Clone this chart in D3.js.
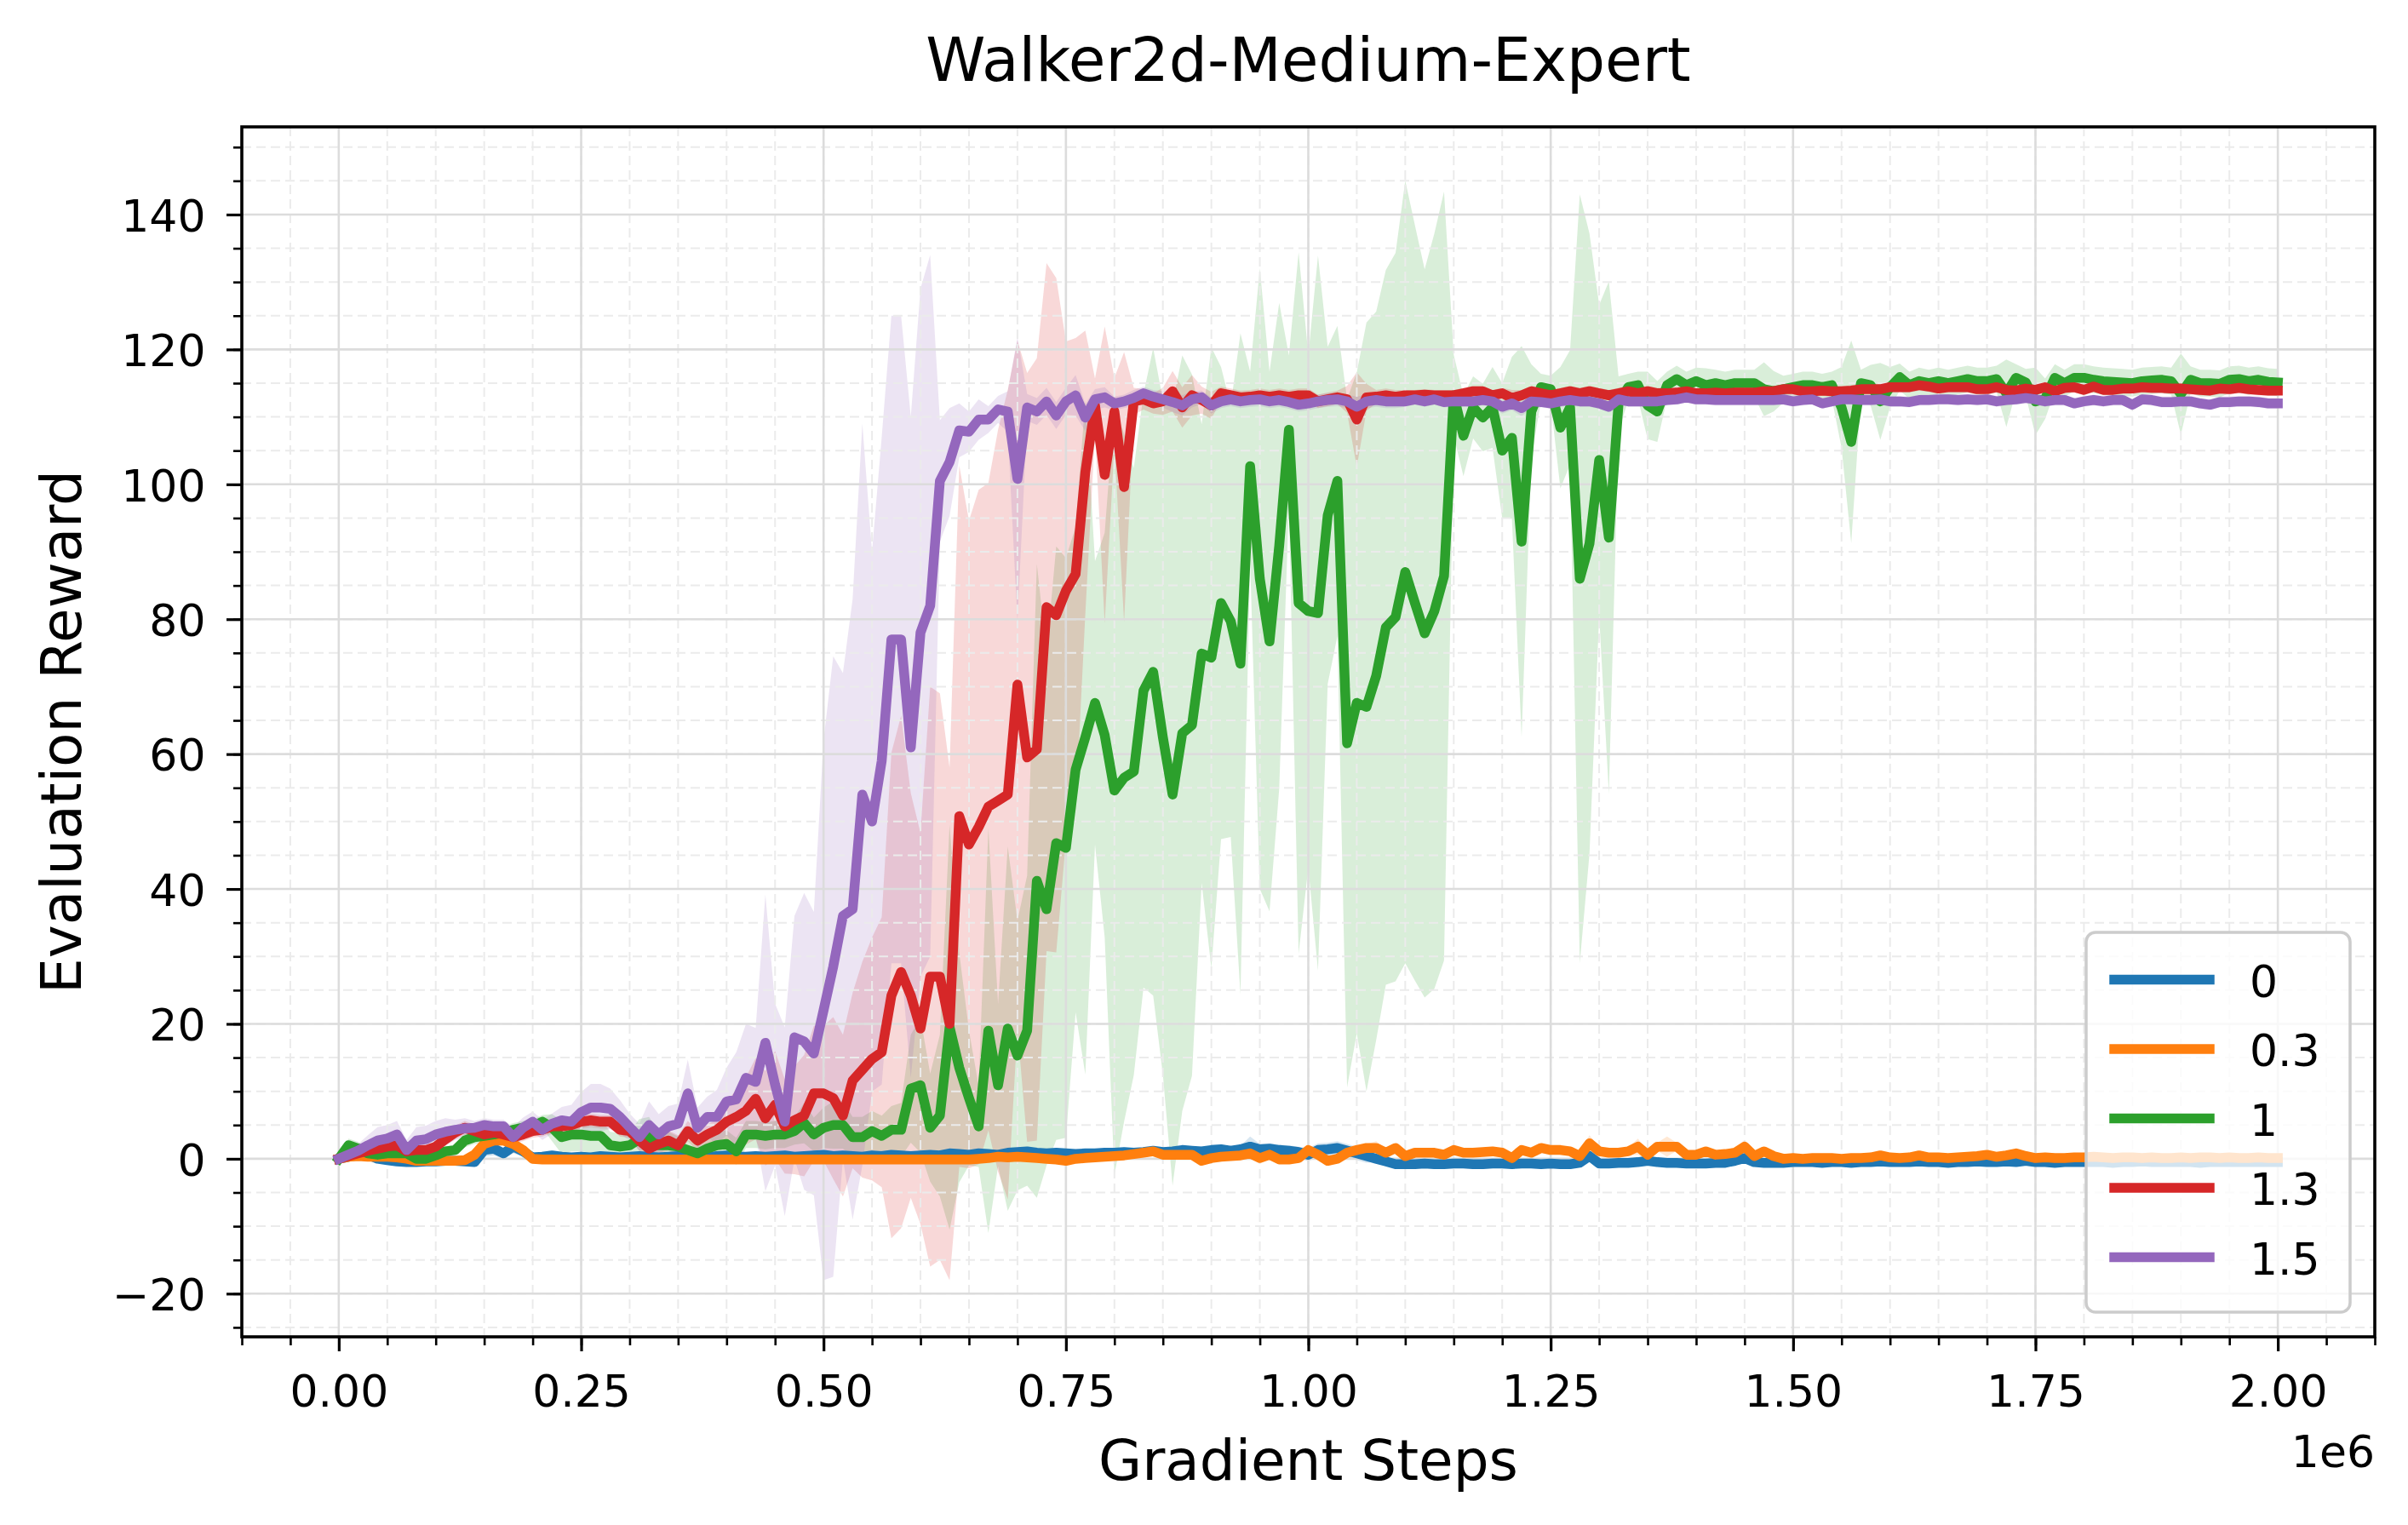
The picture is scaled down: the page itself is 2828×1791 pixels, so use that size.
<!DOCTYPE html>
<html>
<head>
<meta charset="utf-8">
<script src="https://cdn.jsdelivr.net/npm/d3@7"></script>
<style>
  body { margin: 0; background: #ffffff; }
  svg { display: block; font-family: "DejaVu Sans", sans-serif; }
</style>
</head>
<body>
<div id="chart"></div>
<script>
var width = 2828;
var height = 1791;
var plot = {left: 284, right: 2789, top: 149, bottom: 1570};

var seriesLabels = ["0", "0.3", "1", "1.3", "1.5"];
var seriesColors = ["#1f77b4", "#ff7f0e", "#2ca02c", "#d62728", "#9467bd"];
var stepSize = 10000;   // evaluation every 10k gradient steps, 201 points

var xMajorTicks = [0, 250000, 500000, 750000, 1000000, 1250000, 1500000, 1750000, 2000000];
var xTickLabels = ["0.00", "0.25", "0.50", "0.75", "1.00", "1.25", "1.50", "1.75", "2.00"];
var yMajorTicks = [-20, 0, 20, 40, 60, 80, 100, 120, 140];
var yTickLabels = ["\u221220", "0", "20", "40", "60", "80", "100", "120", "140"];

// ---- series "0" (blue)
var mean0 = [
  0, 0.3, 0.5, 0.6, 0.0, -0.2, -0.4, -0.5, -0.5, -0.4,
  -0.4, -0.3, -0.3, -0.4, -0.5, 1.3, 1.5, 0.8, 1.8, 1.1,
  0.2, 0.3, 0.5, 0.3, 0.2, 0.3, 0.2, 0.4, 0.3, 0.2,
  0.3, 0.4, 0.3, 0.2, 0.3, 0.4, 0.3, 0.3, 0.2, 0.4,
  0.5, 0.3, 0.3, 0.4, 0.3, 0.4, 0.5, 0.3, 0.4, 0.5,
  0.6, 0.4, 0.5, 0.4, 0.3, 0.5, 0.4, 0.6, 0.5, 0.4,
  0.5, 0.6, 0.5, 0.8, 0.7, 0.6, 0.8, 0.7, 0.6, 0.9,
  1.0, 1.1, 0.9, 0.8, 0.9, 0.8, 0.7, 0.8, 0.8, 0.9,
  0.9, 1.0, 0.9, 1.0, 1.2, 1.0, 1.1, 1.3, 1.2, 1.1,
  1.3, 1.4, 1.2, 1.4, 1.8, 1.4, 1.5, 1.3, 1.2, 1.0,
  0.6, 1.3, 1.4, 1.6, 1.2, 0.8, 0.4, 0.0, -0.4, -0.8,
  -0.8, -0.8, -0.7, -0.8, -0.8, -0.7, -0.7, -0.8, -0.8, -0.7,
  -0.7, -0.8, -0.7, -0.7, -0.8, -0.7, -0.8, -0.8, -0.6, 0.4,
  -0.7, -0.7, -0.6, -0.6, -0.5, -0.3, -0.5, -0.6, -0.6, -0.7,
  -0.7, -0.7, -0.6, -0.6, -0.3, 0.1, -0.5, -0.6, -0.6, -0.6,
  -0.5, -0.5, -0.5, -0.6, -0.5, -0.5, -0.6, -0.5, -0.5, -0.4,
  -0.5, -0.5, -0.5, -0.4, -0.5, -0.5, -0.6, -0.5, -0.5, -0.4,
  -0.5, -0.5, -0.4, -0.5, -0.3, -0.5, -0.5, -0.6, -0.5, -0.5,
  -0.5, -0.5, -0.5, -0.6, -0.5, -0.5, -0.4, -0.5, -0.5, -0.5,
  -0.5, -0.5, -0.6, -0.5, -0.5, -0.5, -0.5, -0.5, -0.5, -0.5, -0.5
];
var sd0 = [
  0, 0.3, 0.3, 0.3, 0.3, 0.3, 0.3, 0.3, 0.3, 0.3,
  0.3, 0.3, 0.3, 0.3, 0.3, 1.0, 1.0, 0.8, 1.0, 0.8,
  0.3, 0.3, 0.3, 0.3, 0.3, 0.3, 0.3, 0.3, 0.3, 0.3,
  0.3, 0.3, 0.3, 0.3, 0.3, 0.3, 0.3, 0.3, 0.3, 0.3,
  0.3, 0.3, 0.3, 0.3, 0.3, 0.3, 0.3, 0.3, 0.3, 0.3,
  0.3, 0.3, 0.3, 0.3, 0.3, 0.3, 0.3, 0.3, 0.3, 0.3,
  0.5, 0.5, 0.5, 0.5, 0.5, 0.5, 0.5, 0.5, 0.5, 0.5,
  0.5, 0.5, 0.5, 0.5, 0.5, 0.5, 0.5, 0.5, 0.5, 0.5,
  0.5, 0.5, 0.5, 0.5, 0.5, 0.5, 0.5, 0.5, 0.5, 0.5,
  0.5, 0.5, 0.5, 0.5, 1.5, 0.8, 0.8, 0.8, 0.8, 0.8,
  1.0, 1.0, 1.0, 1.0, 1.0, 1.0, 1.0, 0.4, 0.4, 0.4,
  0.4, 0.4, 0.4, 0.4, 0.4, 0.4, 0.4, 0.4, 0.4, 0.4,
  0.4, 0.4, 0.4, 0.4, 0.4, 0.4, 0.4, 0.4, 0.4, 0.8,
  0.4, 0.4, 0.4, 0.4, 0.4, 0.4, 0.4, 0.4, 0.4, 0.4,
  0.4, 0.4, 0.4, 0.4, 0.4, 0.6, 0.4, 0.4, 0.4, 0.4,
  0.4, 0.4, 0.4, 0.4, 0.4, 0.4, 0.4, 0.4, 0.4, 0.4,
  0.4, 0.4, 0.4, 0.4, 0.4, 0.4, 0.4, 0.4, 0.4, 0.4,
  0.4, 0.4, 0.4, 0.4, 0.4, 0.4, 0.4, 0.4, 0.4, 0.4,
  0.4, 0.4, 0.4, 0.4, 0.4, 0.4, 0.4, 0.4, 0.4, 0.4,
  0.4, 0.4, 0.4, 0.4, 0.4, 0.4, 0.4, 0.4, 0.4, 0.4, 0.4
];

// ---- series "0.3" (orange)
var mean03 = [
  0, 0.3, 0.4, 0.3, 0.3, 0.3, 0.2, 0.0, -0.3, -0.3,
  -0.3, -0.3, -0.3, -0.2, 0.6, 2.2, 2.7, 2.7, 2.2, 1.3,
  0.0, -0.1, -0.1, -0.1, -0.1, -0.1, -0.1, -0.1, -0.1, -0.1,
  -0.1, -0.1, -0.1, -0.1, -0.1, -0.1, -0.1, -0.1, -0.1, -0.1,
  -0.1, -0.1, -0.1, -0.1, -0.1, -0.1, -0.1, -0.1, -0.1, -0.1,
  -0.1, -0.1, -0.1, -0.1, -0.1, -0.1, -0.1, -0.1, -0.1, -0.1,
  -0.1, -0.1, -0.1, -0.1, -0.1, -0.1, 0.0, 0.1, 0.3, 0.2,
  0.3, 0.2, 0.1, 0.0, -0.1, -0.3, 0.0, 0.1, 0.2, 0.3,
  0.4, 0.5, 0.7, 0.9, 1.1, 0.6, 0.6, 0.6, 0.6, -0.3,
  0.1, 0.3, 0.4, 0.5, 0.8, 0.1, 0.6, -0.1, -0.1, 0.1,
  1.3, 0.6, -0.3, 0.0, 0.9, 1.3, 1.6, 1.6, 0.9, 1.6,
  0.4, 0.9, 0.9, 0.9, 0.6, 1.3, 0.9, 0.9, 1.0, 1.1,
  0.9, 0.1, 1.3, 0.9, 1.6, 1.3, 1.3, 1.1, 0.4, 2.3,
  1.1, 0.9, 0.9, 1.1, 1.8, 0.6, 1.8, 1.8, 1.8, 0.6,
  0.6, 1.1, 0.6, 0.7, 0.9, 1.8, 0.4, 1.1, 0.4, 0.0,
  0.1, 0.0, 0.1, 0.1, 0.1, 0.0, 0.1, 0.1, 0.2, 0.5,
  0.2, 0.1, 0.2, 0.5, 0.2, 0.2, 0.1, 0.2, 0.3, 0.4,
  0.6, 0.3, 0.5, 0.8, 0.4, 0.1, 0.2, 0.1, 0.1, 0.2,
  0.2, 0.3, 0.2, 0.1, 0.2, 0.2, 0.1, 0.2, 0.1, 0.1,
  0.2, 0.1, 0.2, 0.2, 0.1, 0.2, 0.1, 0.1, 0.2, 0.1, 0.1
];
var sd03 = [
  0, 0.3, 0.3, 0.3, 0.3, 0.3, 0.3, 0.3, 0.3, 0.3,
  0.3, 0.3, 0.3, 0.3, 0.8, 0.8, 0.8, 0.8, 0.8, 0.8,
  0.8, 0.1, 0.1, 0.1, 0.1, 0.1, 0.1, 0.1, 0.1, 0.1,
  0.1, 0.1, 0.1, 0.1, 0.1, 0.1, 0.1, 0.1, 0.1, 0.1,
  0.1, 0.1, 0.1, 0.1, 0.1, 0.1, 0.1, 0.1, 0.1, 0.1,
  0.1, 0.1, 0.1, 0.1, 0.1, 0.1, 0.1, 0.1, 0.1, 0.1,
  0.1, 0.1, 0.1, 0.1, 0.1, 0.1, 0.1, 0.1, 0.4, 0.4,
  0.4, 0.4, 0.4, 0.4, 0.4, 0.4, 0.4, 0.4, 0.4, 0.4,
  0.4, 0.4, 0.4, 0.4, 0.4, 0.4, 0.4, 0.4, 0.4, 0.4,
  0.4, 0.4, 0.4, 0.4, 0.4, 0.4, 0.4, 0.4, 0.4, 0.4,
  0.6, 0.6, 0.6, 0.6, 0.6, 0.6, 0.6, 1.0, 0.6, 0.6,
  0.6, 0.6, 0.6, 0.6, 0.6, 0.6, 0.6, 0.6, 0.6, 0.6,
  0.6, 0.6, 0.6, 0.6, 0.6, 0.6, 0.6, 0.6, 0.6, 1.2,
  0.6, 0.6, 0.6, 0.6, 1.2, 0.6, 0.6, 1.5, 0.6, 0.6,
  0.6, 0.6, 0.6, 0.6, 0.6, 1.0, 0.6, 0.6, 0.6, 0.6,
  0.3, 0.3, 0.3, 0.3, 0.3, 0.3, 0.3, 0.3, 0.3, 0.3,
  0.3, 0.3, 0.3, 0.3, 0.3, 0.3, 0.3, 0.3, 0.3, 0.3,
  0.3, 0.3, 0.3, 0.3, 0.3, 0.3, 0.3, 0.3, 0.3, 0.3,
  0.3, 0.3, 0.3, 0.3, 0.3, 0.3, 0.3, 0.3, 0.3, 0.3,
  0.3, 0.3, 0.3, 0.3, 0.3, 0.3, 0.3, 0.3, 0.3, 0.3, 0.3
];

// ---- series "1" (green)
var mean1 = [
  0, 2.0, 1.5, 0.8, 0.6, 0.8, 0.8, 0.8, 0.0, 0.0,
  0.5, 1.1, 1.3, 2.7, 3.2, 3.4, 3.6, 3.9, 4.3, 4.6,
  4.8, 5.5, 4.6, 3.2, 3.6, 3.6, 3.4, 3.4, 2.0, 1.8,
  2.0, 2.9, 3.2, 2.0, 2.0, 1.8, 1.3, 0.8, 1.5, 2.0,
  2.2, 1.1, 3.6, 3.6, 3.4, 3.6, 3.6, 4.1, 5.3, 3.6,
  4.6, 5.0, 5.0, 3.2, 3.2, 4.1, 3.4, 4.3, 4.3, 10.4,
  10.9, 4.6, 6.4, 19.5, 13.5, 9.0, 4.8, 19.0, 10.9, 19.3,
  15.3, 19.0, 41.2, 37.0, 46.8, 46.1, 57.7, 62.5, 67.6, 62.8,
  54.6, 56.5, 57.4, 69.4, 72.2, 62.5, 54.0, 63.1, 64.3, 74.9,
  74.3, 82.4, 79.7, 73.4, 102.7, 86.0, 76.7, 90.9, 108.1, 82.4,
  81.2, 80.9, 95.4, 100.5, 61.6, 67.6, 67.0, 71.6, 78.8, 80.3,
  87.0, 82.4, 77.9, 81.2, 86.4, 113.2, 107.2, 111.4, 109.9, 111.4,
  105.0, 106.9, 91.5, 110.8, 114.4, 114.1, 108.4, 111.4, 86.0, 91.2,
  103.6, 92.1, 112.0, 114.4, 114.7, 111.7, 110.8, 114.7, 115.6, 114.7,
  115.3, 114.7, 115.0, 114.7, 115.0, 115.0, 115.0, 114.1, 113.8, 114.1,
  114.4, 114.7, 114.7, 114.4, 114.7, 111.4, 106.3, 115.0, 114.7, 112.3,
  114.4, 115.9, 114.7, 115.3, 115.0, 115.3, 115.0, 115.3, 115.6, 115.3,
  115.3, 115.6, 113.5, 115.8, 115.1, 112.3, 112.7, 115.8, 115.0, 115.8,
  115.8, 115.5, 115.3, 115.2, 115.1, 115.0, 115.3, 115.4, 115.5, 115.3,
  113.4, 115.5, 115.0, 115.0, 114.9, 115.5, 115.6, 115.3, 115.5, 115.2, 115.1
];
var sd1 = [
  0, 1, 1, 0.7, 0.7, 0.7, 0.7, 0.7, 0.7, 0.7,
  0.7, 0.7, 0.7, 1, 1, 1, 1, 1, 1, 1,
  1, 1, 2, 2.5, 2.5, 2.5, 2.5, 2.5, 2, 2,
  2, 3, 3, 2, 2, 1.5, 1.5, 1.5, 1.5, 2,
  2, 2, 2, 2, 2, 2, 2, 2, 3, 2.5,
  3, 3.5, 3.5, 3, 3, 3, 3, 3.5, 4, 8,
  10, 8, 12, 30, 17, 10, 6, 30, 12, 27,
  20, 23, 47, 38, 44, 43, 36, 50, 21, 30,
  57, 51, 45, 44, 48, 50, 58, 56, 52, 34,
  46, 35, 32, 49, 14, 46, 40, 36, 11, 52,
  38, 53, 25, 23, 51, 49, 57, 54, 53, 54,
  58, 56, 54, 56, 57, 6, 6, 4.6, 5, 6,
  10, 12, 29, 7, 2, 2, 9, 8.5, 57, 46,
  23, 38, 4, 2, 2, 5, 4.5, 2, 2, 2,
  2, 2.5, 2, 2, 2, 2, 2, 4, 3, 2,
  2, 2, 2, 2, 2, 6, 15, 2, 3, 5.7,
  3, 2, 2, 2, 2, 2, 2, 2, 2, 2,
  2, 2, 5, 2, 2, 5, 3, 2, 2, 2,
  2, 2, 2, 2, 2, 2, 2, 2, 2, 2,
  6, 2, 2, 2, 2, 2, 2, 2, 2, 2, 2
];

// ---- series "1.3" (red)
var mean13 = [
  0, 0.4, 0.8, 1.2, 1.5, 1.8, 2.0, 1.1, 1.3, 1.3,
  1.8, 2.9, 3.9, 4.6, 4.1, 3.6, 3.9, 3.6, 3.2, 3.6,
  4.1, 4.3, 4.8, 4.8, 5.0, 5.5, 5.7, 5.5, 5.5, 4.3,
  4.1, 2.7, 1.5, 2.2, 2.7, 2.0, 4.1, 2.7, 3.6, 4.3,
  5.5, 6.2, 7.1, 8.9, 6.0, 8.0, 4.8, 5.7, 6.4, 9.7,
  9.7, 9.0, 6.4, 11.6, 13.2, 14.8, 15.8, 24.2, 27.7, 24.2,
  19.3, 27.0, 27.0, 20.0, 50.8, 46.6, 49.2, 52.2, 53.1, 54.0,
  70.3, 59.5, 60.7, 81.8, 80.6, 84.2, 86.7, 101.8, 111.7, 101.4,
  110.8, 99.6, 112.3, 112.6, 112.0, 112.3, 113.8, 111.4, 113.2, 112.5,
  111.7, 113.5, 113.2, 112.9, 113.0, 113.2, 113.0, 113.2, 113.0, 113.2,
  113.2, 112.3, 112.6, 112.9, 112.6, 109.6, 112.9, 113.0, 113.2, 113.0,
  113.2, 113.2, 113.3, 113.2, 113.2, 113.2, 113.5, 113.8, 113.8, 113.2,
  113.5, 112.8, 113.2, 113.8, 113.5, 113.2, 113.5, 113.8, 113.5, 113.8,
  113.5, 113.2, 113.5, 113.8, 113.5, 113.8, 113.5, 113.5, 113.6, 113.8,
  113.5, 113.5, 113.6, 113.5, 113.6, 113.6, 113.6, 113.8, 113.8, 114.1,
  114.1, 113.8, 113.8, 113.9, 113.8, 113.8, 113.9, 114.1, 114.1, 114.1,
  114.4, 114.4, 114.4, 114.7, 114.5, 114.2, 114.4, 114.4, 114.4, 114.1,
  114.1, 114.4, 114.0, 113.9, 114.2, 114.0, 114.4, 113.8, 114.3, 114.4,
  114.0, 114.5, 114.0, 114.0, 114.2, 114.2, 114.4, 114.3, 114.3, 114.2,
  114.2, 114.1, 114.0, 113.9, 114.2, 114.1, 114.3, 114.1, 114.0, 113.9, 113.9
];
var sd13 = [
  0, 0.5, 0.5, 0.5, 0.5, 0.5, 0.5, 0.5, 0.5, 0.5,
  0.5, 1, 1, 1, 1, 1, 1, 1, 1, 1,
  1, 1, 1, 1, 1, 1, 1, 1, 1, 1,
  1, 1.5, 1.5, 1.5, 1.5, 1.5, 1.5, 1.5, 1.5, 1.5,
  3, 4, 5, 6, 7, 8, 7, 8, 9, 10,
  10, 12, 12, 13, 16, 18, 20, 36, 38, 30,
  29, 43, 42, 38, 52, 48, 50, 48, 55, 60,
  51, 57, 58, 51, 50, 37, 35, 21, 4, 22,
  5, 20, 2, 1.5, 1.5, 2, 3, 3, 3, 2,
  2, 1, 1, 1, 1, 1, 1, 1, 1, 1,
  1, 1, 1, 1, 2, 7, 2, 1, 1, 1,
  0.8, 0.8, 0.8, 0.8, 0.8, 0.8, 0.8, 0.8, 0.8, 0.8,
  0.8, 1.2, 0.8, 0.8, 0.8, 0.8, 0.8, 0.8, 0.8, 0.8,
  0.8, 0.8, 0.8, 0.8, 0.8, 0.8, 0.8, 0.8, 0.8, 0.8,
  0.8, 0.8, 0.8, 0.8, 0.8, 0.8, 0.8, 0.8, 0.8, 0.8,
  0.8, 0.8, 0.8, 0.8, 0.8, 0.8, 0.8, 0.8, 0.8, 0.8,
  0.8, 0.8, 0.8, 0.8, 0.8, 0.8, 0.8, 0.8, 0.8, 0.8,
  0.8, 0.8, 0.8, 0.8, 0.8, 0.8, 0.8, 0.8, 0.8, 0.8,
  0.8, 0.8, 0.8, 0.8, 0.8, 0.8, 0.8, 0.8, 0.8, 0.8,
  0.8, 0.8, 0.8, 0.8, 0.8, 0.8, 0.8, 0.8, 0.8, 0.8, 0.8
];

// ---- series "1.5" (purple)
var mean15 = [
  0, 0.6, 1.2, 2.0, 2.7, 3.0, 3.6, 1.3, 2.7, 2.9,
  3.6, 4.0, 4.3, 4.5, 4.6, 5.0, 4.8, 4.8, 3.2, 4.6,
  5.5, 4.3, 5.2, 5.7, 5.5, 6.9, 7.6, 7.6, 7.4, 6.2,
  4.7, 3.2, 5.0, 3.6, 4.8, 5.2, 9.7, 4.6, 6.2, 6.2,
  8.5, 8.8, 12.0, 11.4, 17.2, 11.0, 5.5, 18.0, 17.4, 15.6,
  22.0, 28.5, 36.0, 37.0, 54.0, 50.0, 59.0, 77.0, 77.0, 61.0,
  78.0, 82.0, 100.5, 103.3, 108.0, 107.8, 109.6, 109.6, 111.1, 110.8,
  100.8, 111.4, 110.8, 112.3, 110.2, 112.3, 113.2, 109.9, 112.6, 112.9,
  112.0, 112.3, 112.8, 113.5, 113.0, 112.6, 112.2, 111.7, 112.6, 112.9,
  111.7, 112.3, 112.6, 112.3, 112.5, 112.6, 112.3, 112.5, 112.2, 111.8,
  112.0, 112.3, 112.5, 112.6, 112.3, 111.5, 112.3, 112.5, 112.3, 112.3,
  112.3, 112.6, 112.3, 112.6, 112.2, 112.3, 112.3, 112.3, 112.5, 112.3,
  111.5, 112.0, 111.3, 112.3, 112.2, 112.0, 112.3, 112.5, 112.3, 112.3,
  112.0, 111.5, 112.6, 112.3, 112.3, 112.3, 112.3, 112.5, 112.6, 112.9,
  112.6, 112.6, 112.5, 112.5, 112.5, 112.5, 112.5, 112.5, 112.5, 112.6,
  112.3, 112.5, 112.6, 112.0, 112.3, 112.6, 112.6, 112.5, 112.5, 112.6,
  112.3, 112.3, 112.2, 112.5, 112.5, 112.6, 112.6, 112.5, 112.6, 112.5,
  112.6, 112.3, 112.5, 112.6, 112.8, 112.6, 112.3, 112.5, 112.5, 112.0,
  112.3, 112.5, 112.3, 112.5, 112.5, 111.8, 112.6, 112.5, 112.2, 112.2,
  112.3, 112.3, 112.0, 111.8, 112.2, 112.2, 112.3, 112.3, 112.2, 112.0, 112.0
];
var sd15 = [
  0, 0.5, 1.0, 1.5, 2.0, 2.0, 2.0, 1.5, 2.0, 2.0,
  2.0, 2.0, 1.5, 1.5, 1.0, 1.0, 1.0, 1.0, 1.5, 1.5,
  1.5, 1.5, 1.5, 2.0, 2.5, 3.0, 3.5, 3.5, 3.0, 2.5,
  2.0, 2.0, 3.5, 3.0, 3.0, 3.0, 5.0, 3.0, 3.0, 4.0,
  5.0, 7.0, 8.0, 8.0, 22.0, 12.0, 14.0, 18.0, 22.0, 21.0,
  40.0, 46.0, 36.0, 46.0, 55.0, 40.0, 48.0, 48.0, 48.0, 49.0,
  51.0, 52.0, 9.0, 8.0, 4.0, 3.0, 3.0, 2.0, 2.0, 3.0,
  21.0, 2.0, 2.0, 2.0, 2.0, 2.0, 3.0, 2.0, 1.5, 1.5,
  1.0, 1.0, 1.2, 1.0, 1.0, 1.2, 1.5, 1.5, 1.2, 1.0,
  1.2, 1.0, 1.0, 1.0, 1.0, 1.0, 1.0, 1.0, 1.0, 1.0,
  1.0, 1.0, 1.0, 1.0, 1.0, 1.5, 1.0, 1.0, 1.0, 1.0,
  0.8, 0.8, 0.8, 0.8, 0.8, 0.8, 0.8, 0.8, 0.8, 0.8,
  1.0, 1.0, 1.2, 1.0, 0.8, 0.8, 0.8, 0.8, 0.8, 0.8,
  0.8, 0.8, 0.8, 0.8, 0.8, 0.8, 0.8, 0.8, 0.8, 0.8,
  0.8, 0.8, 0.8, 0.8, 0.8, 0.8, 0.8, 0.8, 0.8, 0.8,
  0.8, 0.8, 0.8, 0.8, 0.8, 0.8, 0.8, 0.8, 0.8, 0.8,
  0.8, 0.8, 0.8, 0.8, 0.8, 0.8, 0.8, 0.8, 0.8, 0.8,
  0.8, 0.8, 0.8, 0.8, 0.8, 0.8, 0.8, 0.8, 0.8, 0.8,
  0.8, 0.8, 0.8, 0.8, 0.8, 0.8, 0.8, 0.8, 0.8, 0.8,
  0.8, 0.8, 0.8, 0.8, 0.8, 0.8, 0.8, 0.8, 0.8, 0.8, 0.8
];

var allMeans = [mean0, mean03, mean1, mean13, mean15];
var allSds = [sd0, sd03, sd1, sd13, sd15];

function buildSeries() {
  return seriesLabels.map(function(label, k) {
    var m = allMeans[k], s = allSds[k];
    return {
      label: label,
      color: seriesColors[k],
      points: m.map(function(v, i) {
        return {step: i * stepSize, mean: v, lo: v - s[i], hi: v + s[i]};
      })
    };
  });
}

function createSVG() {
  var svg = d3.select("#chart").append("svg")
    .attr("width", width)
    .attr("height", height);
  svg.append("rect").attr("width", width).attr("height", height).attr("fill", "#ffffff");
  return svg;
}

function main() {
  var svg = createSVG();
  var series = buildSeries();

  var x = d3.scaleLinear().domain([-100000, 2100000]).range([plot.left, plot.right]);
  var y = d3.scaleLinear().domain([-26.4, 153.0]).range([plot.bottom, plot.top]);

  var xMinor = d3.range(-100000, 2100001, 50000);
  var yMinor = d3.range(-25, 151, 5);

  svg.append("defs").append("clipPath").attr("id", "plotclip")
    .append("rect")
    .attr("x", plot.left).attr("y", plot.top)
    .attr("width", plot.right - plot.left).attr("height", plot.bottom - plot.top);

  var body = svg.append("g").attr("clip-path", "url(#plotclip)");

  // shaded bands (mean +/- std)
  var area = d3.area()
    .x(function(d) { return x(d.step); })
    .y0(function(d) { return y(d.lo); })
    .y1(function(d) { return y(d.hi); });

  body.selectAll("path.band")
    .data(series)
    .enter()
    .append("path")
    .attr("class", "band")
    .attr("d", function(d) { return area(d.points); })
    .attr("fill", function(d) { return d.color; })
    .attr("fill-opacity", 0.18)
    .attr("stroke", "none");

  // grid: minor dashed, major solid
  var grid = body.append("g");
  grid.selectAll("line.xminor").data(xMinor).enter().append("line")
    .attr("x1", function(d) { return x(d); }).attr("x2", function(d) { return x(d); })
    .attr("y1", plot.top).attr("y2", plot.bottom)
    .attr("stroke", "#ebebeb").attr("stroke-width", 2).attr("stroke-dasharray", "11,6");
  grid.selectAll("line.yminor").data(yMinor).enter().append("line")
    .attr("x1", plot.left).attr("x2", plot.right)
    .attr("y1", function(d) { return y(d); }).attr("y2", function(d) { return y(d); })
    .attr("stroke", "#ebebeb").attr("stroke-width", 2).attr("stroke-dasharray", "11,6");
  grid.selectAll("line.xmajor").data(xMajorTicks).enter().append("line")
    .attr("x1", function(d) { return x(d); }).attr("x2", function(d) { return x(d); })
    .attr("y1", plot.top).attr("y2", plot.bottom)
    .attr("stroke", "#dcdcdc").attr("stroke-width", 2.6);
  grid.selectAll("line.ymajor").data(yMajorTicks).enter().append("line")
    .attr("x1", plot.left).attr("x2", plot.right)
    .attr("y1", function(d) { return y(d); }).attr("y2", function(d) { return y(d); })
    .attr("stroke", "#dcdcdc").attr("stroke-width", 2.6);

  // mean curves
  var line = d3.line()
    .x(function(d) { return x(d.step); })
    .y(function(d) { return y(d.mean); });

  body.selectAll("path.mean")
    .data(series)
    .enter()
    .append("path")
    .attr("class", "mean")
    .attr("d", function(d) { return line(d.points); })
    .attr("fill", "none")
    .attr("stroke", function(d) { return d.color; })
    .attr("stroke-width", 11.5)
    .attr("stroke-linejoin", "round")
    .attr("stroke-linecap", "square");

  // axes
  var xAxis = svg.append("g")
    .attr("transform", "translate(0," + plot.bottom + ")")
    .call(d3.axisBottom(x).tickValues(xMajorTicks).tickSize(17)
      .tickFormat(function(d, i) { return xTickLabels[i]; }));
  var xAxisMinor = svg.append("g")
    .attr("transform", "translate(0," + plot.bottom + ")")
    .call(d3.axisBottom(x).tickValues(xMinor).tickSize(10).tickFormat(""));
  var yAxis = svg.append("g")
    .attr("transform", "translate(" + plot.left + ",0)")
    .call(d3.axisLeft(y).tickValues(yMajorTicks).tickSize(18)
      .tickFormat(function(d, i) { return yTickLabels[i]; }));
  var yAxisMinor = svg.append("g")
    .attr("transform", "translate(" + plot.left + ",0)")
    .call(d3.axisLeft(y).tickValues(yMinor).tickSize(10).tickFormat(""));

  [xAxis, xAxisMinor, yAxis, yAxisMinor].forEach(function(g) {
    g.select(".domain").remove();
    g.selectAll(".tick line").attr("stroke", "#000").attr("stroke-width", 3.2);
  });
  xAxisMinor.selectAll(".tick line").attr("stroke-width", 2.6);
  yAxisMinor.selectAll(".tick line").attr("stroke-width", 2.6);

  xAxis.selectAll(".tick text")
    .attr("y", 81.5).attr("dy", null)
    .attr("font-size", 52).attr("font-family", "DejaVu Sans").attr("fill", "#000");
  yAxis.selectAll(".tick text")
    .attr("x", -42.5).attr("dy", "0.37em")
    .attr("font-size", 52).attr("font-family", "DejaVu Sans").attr("fill", "#000");

  // spines
  svg.append("rect")
    .attr("x", plot.left).attr("y", plot.top)
    .attr("width", plot.right - plot.left).attr("height", plot.bottom - plot.top)
    .attr("fill", "none").attr("stroke", "#000").attr("stroke-width", 3.6);

  // offset text for x axis
  svg.append("text")
    .attr("x", plot.right).attr("y", 1723)
    .attr("text-anchor", "end").attr("font-size", 52)
    .text("1e6");

  // labels and title
  svg.append("text")
    .attr("x", (plot.left + plot.right) / 2).attr("y", 1738)
    .attr("text-anchor", "middle").attr("font-size", 66)
    .text("Gradient Steps");
  svg.append("text")
    .attr("transform", "translate(95," + ((plot.top + plot.bottom) / 2) + ") rotate(-90)")
    .attr("text-anchor", "middle").attr("font-size", 66)
    .text("Evaluation Reward");
  svg.append("text")
    .attr("x", (plot.left + plot.right) / 2).attr("y", 95)
    .attr("text-anchor", "middle").attr("font-size", 71)
    .text("Walker2d-Medium-Expert");

  createLegend(svg, series);
}

function createLegend(svg, series) {
  var legend = svg.append("g").attr("transform", "translate(2450,1095)");
  legend.append("rect")
    .attr("width", 310).attr("height", 446)
    .attr("rx", 11).attr("ry", 11)
    .attr("fill", "#ffffff").attr("fill-opacity", 0.8)
    .attr("stroke", "#cccccc").attr("stroke-width", 3.5);

  var rows = legend.selectAll("g.entry")
    .data(series)
    .enter()
    .append("g")
    .attr("class", "entry")
    .attr("transform", function(d, i) { return "translate(0," + (55.5 + i * 81.5) + ")"; });

  rows.append("line")
    .attr("x1", 33).attr("x2", 145)
    .attr("stroke", function(d) { return d.color; })
    .attr("stroke-width", 11.5)
    .attr("stroke-linecap", "square");

  rows.append("text")
    .attr("x", 192).attr("y", 20)
    .attr("font-size", 52)
    .text(function(d) { return d.label; });
}

window.onload = function() {
  main();
};
</script>
</body>
</html>
